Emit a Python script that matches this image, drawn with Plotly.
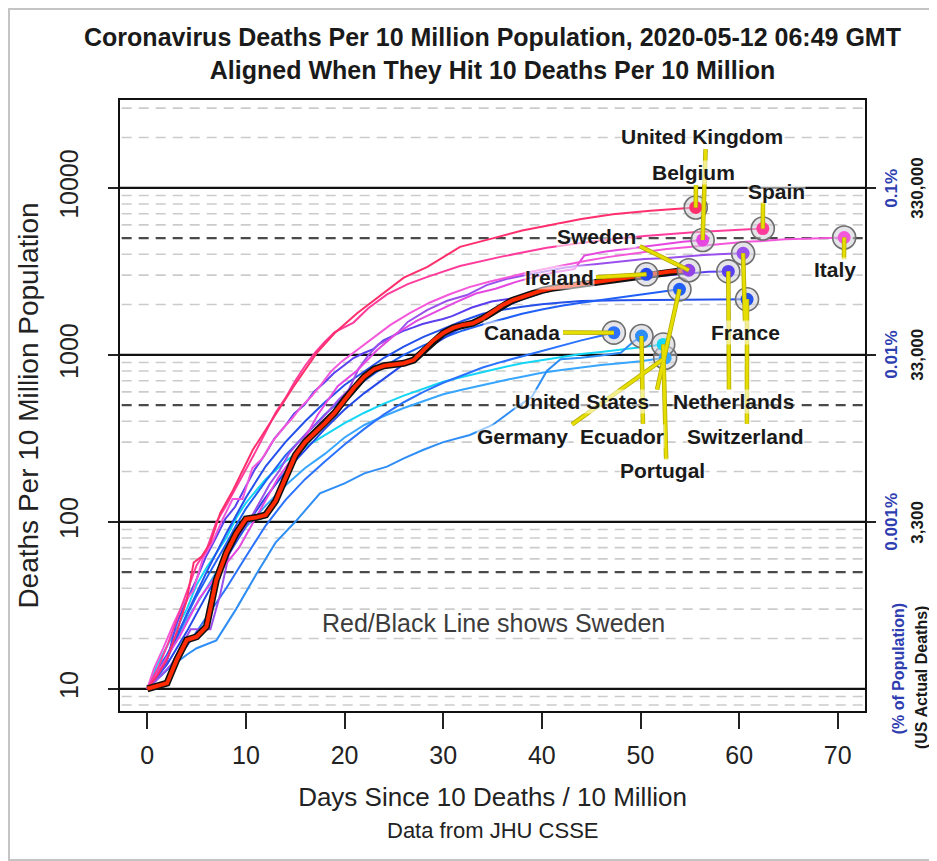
import math
import plotly.graph_objects as go

# ---------------- data (deaths per 10 million, days since 10 per 10M) ----------------
sweden_days = [0, 1, 2, 3, 4, 5, 6, 7, 8, 9, 10, 11, 12, 13, 14, 15, 16, 17, 18, 19, 20,
               21, 22, 23, 24, 25, 26, 27, 28, 29, 30, 31, 32, 33, 34, 35, 36, 37, 38, 39,
               40, 41, 42, 43, 44, 45, 46, 47, 48, 49, 50, 51, 52, 53, 54, 54.9]
sweden_vals = [10, 10.4, 10.8, 15, 19.6, 20.5, 23.6, 45, 65, 85, 104, 106, 110, 133, 180,
               250, 300, 340, 390, 450, 540, 640, 740, 820, 860, 875, 890, 930, 1060, 1220,
               1350, 1450, 1510, 1545, 1650, 1800, 1980, 2120, 2220, 2330, 2430, 2500, 2550,
               2610, 2650, 2700, 2750, 2800, 2860, 2930, 2990, 3050, 3100, 3150, 3180, 3210]

belgium_days = [0, 1, 2, 3, 4, 4.7, 5.5, 6.4, 7.4, 8.7, 10.7, 12.8, 14.8, 17.2, 19.0, 21.3,
                24.3, 26.0, 28.4, 31.7, 35.1, 38.0, 40.5, 44.0, 47.2, 51.0, 55.6]
belgium_vals = [10, 12, 15, 22, 34, 57, 62, 75, 113, 155, 270, 425, 643, 1030, 1350, 1780,
                2450, 2900, 3360, 4430, 5000, 5550, 5920, 6500, 6950, 7300, 7630]

spain_days = [0, 1, 2, 3, 4, 5, 6, 7, 8, 9, 10, 11, 12, 13, 14, 15, 16, 17, 18, 19, 20.9,
              22.4, 24.3, 26.4, 28.4, 31.7, 35.8, 40.5, 45.4, 50.4, 55.4, 59.0, 62.4]
spain_vals = [10, 13, 18, 26, 37, 55, 68, 100, 125, 160, 205, 265, 345, 450, 550, 700, 860,
              1030, 1200, 1370, 1560, 1900, 2300, 2650, 2930, 3400, 3860, 4380, 4800, 5150,
              5420, 5580, 5705]

uk_days = [0, 3.3, 5.3, 7.3, 9.3, 11.3, 13.3, 15.3, 17.3, 19.3, 21.3, 23.3, 25.3, 27.3, 29.3,
           31.3, 33.3, 35.3, 37.3, 39.3, 41.3, 43.3, 44.3, 46.3, 48.3, 50.3, 52.3, 54.3, 56.3]
uk_vals = [10, 20.7, 35, 50, 70, 114, 185, 269, 439, 649, 809, 1068, 1347, 1596, 1821, 2066,
           2327, 2485, 2725, 2938, 3122, 3265, 3929, 4141, 4282, 4430, 4608, 4754, 4875]

italy_days = [0, 0.65, 1.65, 2.65, 3.65, 4.65, 5.65, 6.65, 7.65, 8.65, 9.65, 10.65, 11.65,
              12.65, 13.65, 14.65, 15.65, 16.65, 17.65, 18.65, 19.65, 20.65, 22.65, 24.65,
              26.65, 28.65, 30.65, 32.65, 34.65, 36.65, 38.65, 40.65, 42.65, 44.65, 46.65,
              48.65, 50.65, 52.65, 54.65, 56.65, 58.65, 60.65, 62.65, 64.65, 66.65, 68.65, 70.65]
italy_vals = [10, 13.1, 17.7, 24.5, 32.6, 38.6, 60.6, 76.7, 104, 137, 137, 210, 239, 300, 357,
              414, 493, 564, 668, 799, 907, 1006, 1242, 1512, 1785, 2058, 2304, 2543, 2736,
              2925, 3121, 3295, 3488, 3671, 3846, 3992, 4153, 4300, 4411, 4530, 4630, 4753,
              4814, 4914, 4960, 5010, 5040]

france_days = [0, 1.4, 2.4, 4.4, 6.4, 7.4, 8.4, 9.4, 10.4, 11.4, 12.4, 13.4, 14.4, 15.4, 16.4,
               17.4, 18.4, 19.4, 20.4, 21.4, 22.4, 23.4, 24.4, 25.4, 26.4, 28.4, 30.4, 32.4,
               34.4, 36.4, 38.4, 40.4, 42.4, 44.4, 46.4, 48.4, 50.4, 52.4, 54.4, 56.4, 58.4, 60.4]
france_vals = [10, 12, 13.9, 22.7, 22.7, 37, 69, 86, 103, 131, 168, 203, 258, 304, 353, 397,
               461, 538, 615, 822, 992, 1153, 1232, 1359, 1574, 1861, 2108, 2281, 2616, 2847,
               3005, 3170, 3332, 3443, 3546, 3667, 3744, 3790, 3887, 3956, 4016, 4055]

netherlands_days = [0, 1.9, 2.9, 3.9, 4.9, 5.9, 6.9, 7.9, 8.9, 9.9, 10.9, 11.9, 12.9, 13.9,
                    14.9, 15.9, 16.9, 17.9, 18.9, 19.9, 20.9, 21.9, 22.9, 23.9, 24.9, 25.9,
                    26.9, 27.9, 28.9, 29.9, 30.9, 31.9, 32.9, 33.9, 34.9, 36.9, 38.9, 40.9,
                    42.9, 44.9, 46.9, 48.9, 50.9, 52.9, 54.9, 56.9, 58.9]
netherlands_vals = [10, 14, 24, 33, 44, 61, 79, 104, 123, 160, 206, 251, 316, 370, 446, 500,
                    601, 679, 775, 861, 956, 1022, 1081, 1216, 1301, 1387, 1454, 1530, 1584,
                    1634, 1705, 1815, 1919, 2003, 2085, 2172, 2347, 2483, 2591, 2644, 2737,
                    2833, 2927, 2992, 3064, 3139, 3160]

switzerland_days = [0, 2, 4, 6, 8, 10, 12, 14, 16, 18, 20, 22, 24, 26, 28, 30, 32, 34, 36, 38,
                    40, 42, 44, 48, 52, 56, 60.8]
switzerland_vals = [10, 15, 28, 50, 85, 140, 215, 300, 400, 520, 660, 800, 960, 1120, 1280,
                    1430, 1600, 1760, 1860, 1940, 2010, 2060, 2100, 2120, 2130, 2140, 2150]

ireland_days = [0, 2, 4, 6, 8, 10, 12, 14, 16, 18, 20, 22, 24, 26, 28, 30, 32, 34, 36, 38, 40,
                42, 44, 46, 48, 50.6]
ireland_vals = [10, 14, 22, 36, 60, 95, 140, 200, 270, 360, 470, 590, 720, 880, 1060, 1260,
                1480, 1700, 1920, 2150, 2350, 2520, 2680, 2820, 2930, 3035]

us_days = [0, 1, 2, 3, 4, 5, 6, 7, 8, 9, 10, 12, 14, 16, 18, 20, 22, 24, 26, 28, 30, 32, 34,
           36, 38, 40, 42, 44, 46, 48, 50, 52, 53.95]
us_vals = [10, 13, 16, 21, 28, 36, 46, 58, 74, 95, 120, 175, 250, 330, 440, 560, 700, 850,
           1000, 1140, 1270, 1400, 1520, 1640, 1760, 1870, 1970, 2050, 2130, 2220, 2310, 2400,
           2467]

canada_days = [0, 2, 4, 6, 8, 10, 12, 14, 16, 18, 20, 22, 24, 26, 28, 30, 32, 34, 36, 38, 40,
               42, 44, 46, 47.3]
canada_vals = [10, 13, 18, 27, 40, 62, 95, 135, 180, 230, 290, 360, 440, 520, 600, 680, 760,
               840, 910, 980, 1050, 1130, 1220, 1300, 1358]

ecuador_days = [0, 1, 2, 3, 4, 5, 7, 9, 11, 13, 15, 17.5, 20, 22, 24.3, 26, 28, 30, 32.7, 35,
                37.1, 39, 40.5, 41.9, 44, 46, 48, 49.3, 50.1]
ecuador_vals = [10, 11.5, 13, 14.5, 16, 17.5, 19.5, 30, 48, 75, 100, 148, 170, 195, 214, 240,
                270, 300, 331, 380, 470, 560, 800, 940, 960, 990, 1030, 1200, 1295]

germany_days = [0, 1, 2, 3, 4, 5, 6, 7, 8, 9, 10, 12, 14, 16, 18, 20, 22, 24, 26, 28, 30, 32,
                34, 36, 38, 40, 42, 44, 46, 48, 50, 52.5]
germany_vals = [10, 12, 16, 20, 26, 32, 40, 50, 62, 76, 93, 125, 165, 210, 255, 320, 380, 430,
                480, 530, 580, 620, 660, 700, 740, 780, 810, 840, 870, 890, 915, 960]

portugal_days = [0, 1, 2, 3, 4, 5, 6, 7, 8, 9, 10, 12, 14, 16, 18, 20, 22, 24, 26, 28, 30, 32,
                 34, 36, 38, 40, 42, 44, 46, 48, 50, 52.3]
portugal_vals = [10, 14, 18, 23, 30, 42, 53, 65, 80, 105, 130, 180, 230, 280, 330, 390, 450,
                 510, 570, 630, 690, 740, 790, 840, 890, 930, 970, 1010, 1040, 1080, 1110, 1154]

x_ticks = [0, 10, 20, 30, 40, 50, 60, 70]
y_ticks = [10, 100, 1000, 10000]
y_ticktext = ["10", "100", "1000", "10000"]
right_ticks = [100, 1000, 10000]
right_pct = ["0.001%", "0.01%", "0.1%"]
right_us = ["3,300", "33,000", "330,000"]
grid_solid = [10, 100, 1000, 10000]
grid_dark = [50, 500, 5000]
grid_light = [8, 9, 20, 30, 40, 60, 70, 80, 90, 200, 300, 400, 600, 700, 800, 900,
              2000, 3000, 4000, 6000, 7000, 8000, 9000, 20000, 30000]

# ---------------- styling ----------------
FONT = "Liberation Sans, Arial, Helvetica, sans-serif"
X_RANGE = [-2.77, 72.76]
Y_RANGE = [0.867, 4.526]
BLUE_TXT = "#2E3DB0"
YELLOW = "#E6DE00"
# the page body adds an 8 px offset, so the figure is 8 px smaller than the window
FIG_W, FIG_H = 929, 853

countries = [
    # name, days, vals, color, label pos (day, value), connector start (day, value)
    ("Germany", germany_days, germany_vals, "#38A6FF", (37.99, 324), (43.06, 383)),
    ("Portugal", portugal_days, portugal_vals, "#14D6F4", (52.18, 203), (52.6, 236)),
    ("Ecuador", ecuador_days, ecuador_vals, "#2E8EF6", (48.12, 324), (50.25, 387)),
    ("Canada", canada_days, canada_vals, "#2A72FF", (37.99, 1361), (42.14, 1361)),
    ("Switzerland", switzerland_days, switzerland_vals, "#2450EC", (60.69, 324), (60.79, 387)),
    ("United States", us_days, us_vals, "#2060F6", (44.07, 525), (51.68, 620)),
    ("Ireland", ireland_days, ireland_vals, "#2448EA", (41.74, 2910), (45.49, 2910)),
    ("Netherlands", netherlands_days, netherlands_vals, "#5A40EE", (59.38, 525), (58.97, 620)),
    ("France", france_days, france_vals, "#9A50EC", (60.6, 1361), (60.6, 1585)),
    ("United Kingdom", uk_days, uk_vals, "#E448E0", (56.24, 20420), (56.6, 17060)),
    ("Italy", italy_days, italy_vals, "#F458DA", (69.72, 3250), (70.63, 3730)),
    ("Spain", spain_days, spain_vals, "#FF3C9C", (63.74, 9550), (62.42, 8200)),
    ("Belgium", belgium_days, belgium_vals, "#FF2E6C", (55.33, 12420), (55.62, 10370)),
]
sweden_marker_color = "#9244E4"

fig = go.Figure()

def hline_trace(values, color, width, dash):
    xs, ys = [], []
    for v in values:
        xs += [X_RANGE[0] - 5, X_RANGE[1] + 5, None]
        ys += [v, v, None]
    return go.Scatter(x=xs, y=ys, mode="lines", line=dict(color=color, width=width, dash=dash),
                      hoverinfo="skip", showlegend=False)

fig.add_trace(hline_trace(grid_light, "#CBCBCB", 1.6, "10px,7px"))
fig.add_trace(hline_trace(grid_dark, "#4A4A4A", 2.2, "10px,7px"))
fig.add_trace(hline_trace(grid_solid, "#111111", 2.2, "solid"))

for name, d, v, col, lab, con in countries:
    fig.add_trace(go.Scatter(x=d, y=v, mode="lines", line=dict(color=col, width=2),
                             name=name, showlegend=False))

fig.add_trace(go.Scatter(x=sweden_days, y=sweden_vals, mode="lines",
                         line=dict(color="#111111", width=7), showlegend=False, hoverinfo="skip"))
fig.add_trace(go.Scatter(x=sweden_days, y=sweden_vals, mode="lines",
                         line=dict(color="#FF2A00", width=4), name="Sweden", showlegend=False))

# end markers
all_ends = [(name, d[-1], v[-1], col) for name, d, v, col, lab, con in countries]
all_ends.append(("Sweden", sweden_days[-1], sweden_vals[-1], sweden_marker_color))
fig.add_trace(go.Scatter(x=[e[1] for e in all_ends], y=[e[2] for e in all_ends], mode="markers",
                         marker=dict(size=23, color="rgba(205,205,215,0.55)",
                                     line=dict(color="#6E6E6E", width=1.6)),
                         hoverinfo="skip", showlegend=False))
fig.add_trace(go.Scatter(x=[e[1] for e in all_ends], y=[e[2] for e in all_ends], mode="markers",
                         marker=dict(size=13, color=[e[3] for e in all_ends]),
                         text=[e[0] for e in all_ends], showlegend=False))

# connectors
labels = [(name, lab, con, d[-1], v[-1]) for name, d, v, col, lab, con in countries]
labels.append(("Sweden", (45.49, 5130), (49.94, 4470), sweden_days[-1], sweden_vals[-1]))
cx, cy = [], []
for name, lab, con, ex, ey in labels:
    cx += [con[0], ex, None]
    cy += [con[1], ey, None]
fig.add_trace(go.Scatter(x=cx, y=cy, mode="lines", line=dict(color="#B0A800", width=4.5),
                         hoverinfo="skip", showlegend=False))
fig.add_trace(go.Scatter(x=cx, y=cy, mode="lines", line=dict(color=YELLOW, width=3),
                         hoverinfo="skip", showlegend=False))

# invisible trace to activate the right axis
fig.add_trace(go.Scatter(x=[0], y=[10], yaxis="y2", mode="markers",
                         marker=dict(opacity=0), hoverinfo="skip", showlegend=False))

annotations = []
for name, lab, con, ex, ey in labels:
    annotations.append(dict(x=lab[0], y=math.log10(lab[1]), xref="x", yref="y", text=f"<b>{name}</b>",
                            xanchor="center", yanchor="middle", showarrow=False,
                            font=dict(family=FONT, size=21, color="#1A1A1A"),
                            bgcolor="rgba(255,255,255,0.55)", borderpad=0))

annotations.append(dict(x=35.07, y=math.log10(24.8), xref="x", yref="y",
                        xanchor="center", yanchor="middle",
                        text="Red/Black Line shows Sweden", showarrow=False,
                        font=dict(family=FONT, size=25, color="#3C3C3C")))
annotations.append(dict(x=0.5, y=-0.196, xref="paper", yref="paper", text="Data from JHU CSSE",
                        xanchor="center", yanchor="middle",
                        showarrow=False, font=dict(family=FONT, size=22, color="#222222")))

for t, p, u in zip(right_ticks, right_pct, right_us):
    annotations.append(dict(x=1.036, y=math.log10(t), xref="paper", yref="y", text=f"<b>{p}</b>",
                            textangle=-90, showarrow=False, xanchor="center", yanchor="middle",
                            font=dict(family=FONT, size=17, color=BLUE_TXT)))
    annotations.append(dict(x=1.071, y=math.log10(t), xref="paper", yref="y", text=f"<b>{u}</b>",
                            textangle=-90, showarrow=False, xanchor="center", yanchor="middle",
                            font=dict(family=FONT, size=17, color="#1A1A1A")))
annotations.append(dict(x=1.045, y=0.069, xref="paper", yref="paper", text="<b>(% of Population)</b>",
                        textangle=-90, showarrow=False, xanchor="center", yanchor="middle",
                        font=dict(family=FONT, size=16, color=BLUE_TXT)))
annotations.append(dict(x=1.076, y=0.055, xref="paper", yref="paper", text="<b>(US Actual Deaths)</b>",
                        textangle=-90, showarrow=False, xanchor="center", yanchor="middle",
                        font=dict(family=FONT, size=16, color="#1A1A1A")))

fig.update_layout(
    width=FIG_W, height=FIG_H, autosize=False,
    margin=dict(l=112, r=72, t=92, b=150),
    paper_bgcolor="white", plot_bgcolor="white",
    font=dict(family=FONT, color="#1A1A1A"),
    title=dict(text="<b>Coronavirus Deaths Per 10 Million Population, 2020-05-12 06:49 GMT</b><br>"
                    "<b>Aligned When They Hit 10 Deaths Per 10 Million</b>",
               x=0.5, xref="paper", xanchor="center", y=1 - 38 / FIG_H, yref="container",
               yanchor="top", font=dict(family=FONT, size=25, color="#1A1A1A")),
    xaxis=dict(range=X_RANGE, tickvals=x_ticks, ticks="outside", ticklen=16, tickwidth=1.5,
               tickcolor="#222", showgrid=False, zeroline=False, showline=True, mirror=True,
               linecolor="#111", linewidth=1.5, ticklabelstandoff=5,
               tickfont=dict(family=FONT, size=25, color="#222"),
               title=dict(text="Days Since 10 Deaths / 10 Million", standoff=20,
                          font=dict(family=FONT, size=26, color="#222"))),
    yaxis=dict(type="log", range=Y_RANGE, tickvals=y_ticks, ticktext=y_ticktext, tickangle=-90,
               ticks="outside", ticklen=10, tickwidth=1.5, tickcolor="#222", showgrid=False,
               zeroline=False, showline=True, mirror=True, linecolor="#111", linewidth=1.5,
               ticklabelstandoff=20, tickfont=dict(family=FONT, size=25, color="#222"),
               title=dict(text="Deaths Per 10 Million Population", standoff=8,
                          font=dict(family=FONT, size=28, color="#222"))),
    yaxis2=dict(type="log", range=Y_RANGE, overlaying="y", side="right", tickvals=right_ticks,
                ticks="outside", ticklen=10, tickwidth=1.5, tickcolor="#222",
                showticklabels=False, showgrid=False, zeroline=False, showline=False),
    annotations=annotations,
    shapes=[dict(type="rect", xref="paper", yref="paper", x0=-0.149, x1=1.0953, y0=-0.2439,
                 y1=1.149, line=dict(color="#C4C4C4", width=2), layer="below")],
)

fig.write_html("out.html")
